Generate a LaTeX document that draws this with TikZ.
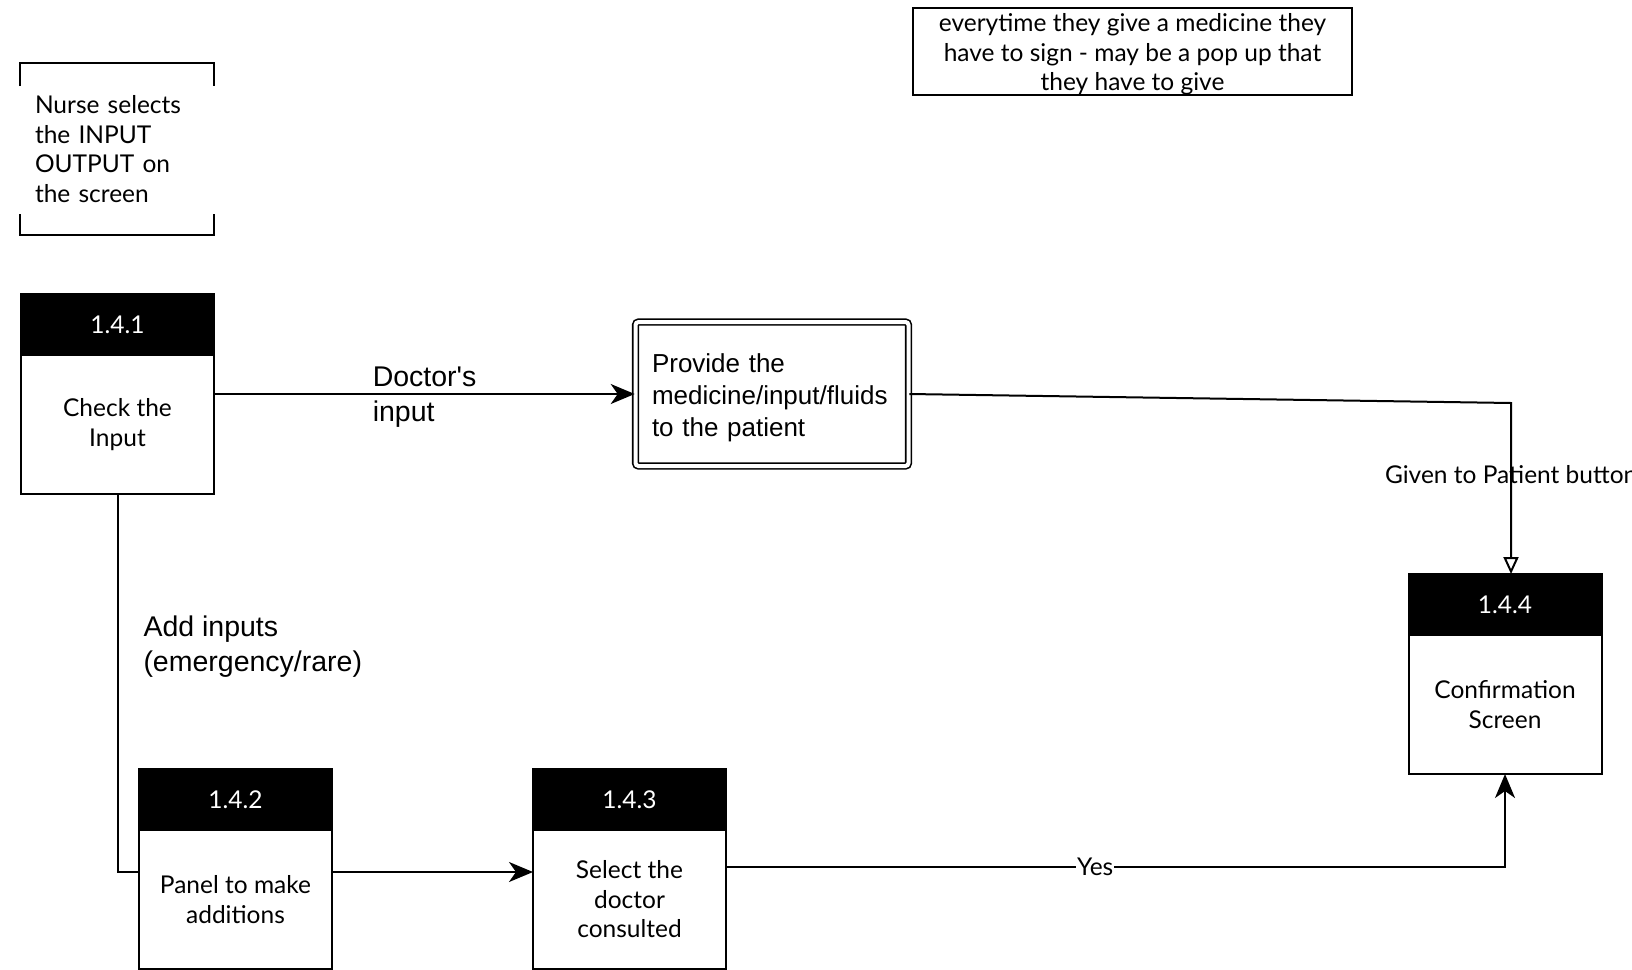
\documentclass[tikz,border=0pt]{standalone}
\usepackage{fontspec}
\setmainfont{Lato}
\newfontfamily\helv{Liberation Sans}
\usetikzlibrary{arrows.meta,positioning,calc}

\begin{document}
\begin{tikzpicture}[
  x=1pt, y=-1pt,
  line width=2pt,
  every node/.style={font=\fontsize{24.5}{29.5}\selectfont},
  head/.style={rectangle, draw, fill=black, text=white, minimum width=193pt,
    minimum height=61pt, inner sep=0pt, outer sep=0pt, anchor=north},
  body/.style={rectangle, draw, minimum width=193pt, minimum height=139pt,
    inner sep=0pt, outer sep=0pt, align=center, below=0pt of #1},
  task/.style={rectangle, draw, double, double distance=4pt, line width=1.6pt,
    rounded corners=3pt, minimum width=273pt, minimum height=144pt,
    text width=240pt, align=left, font=\helv\fontsize{26}{32}\selectfont},
  note/.style={rectangle, draw, minimum width=439pt, minimum height=87pt,
    inner sep=0pt, align=center},
  lab/.style={inner sep=0pt, align=left, font=\helv\fontsize{28.5}{35}\selectfont},
  flow/.style={-{Stealth[length=24pt, width=20pt, inset=7pt]}},
  open/.style={-{Triangle[open, fill=white, length=17pt, width=15pt]}}
]
\useasboundingbox (0,0) rectangle (1632,969);

% --- annotations ---
\node[minimum width=192pt, minimum height=170pt, inner sep=0pt,
  text width=164pt, align=left] (nurse) at (117,149)
  {Nurse selects\\the INPUT\\OUTPUT on\\the screen};
\draw (nurse.north west) ++(0,23) -- (nurse.north west) -- (nurse.north east) -- ++(0,23);
\draw (nurse.south west) ++(0,-21) -- (nurse.south west) -- (nurse.south east) -- ++(0,-21);

\node[note] (sign) at (1132.5,51.5)
  {\rule{0pt}{24pt}everytime they give a medicine they\\have to sign - may be a pop up that\\they have to give};

% --- processes (absolute placement) ---
\node[head] (p1h) at (117.5,294) {1.4.1};
\node[body=p1h] (p1) {Check the\\Input};

\node[head] (p2h) at (235.5,769) {1.4.2};
\node[body=p2h] (p2) {Panel to make\\additions};

\node[head] (p3h) at (629.5,769) {1.4.3};
\node[body=p3h] (p3) {Select the\\doctor\\consulted};

\node[head] (p4h) at (1505,574) {1.4.4};
\node[body=p4h] (p4) {Confirmation\\Screen};

\node[task] (give) at (772,394) {\rule{0pt}{27pt}Provide the\\medicine/input/fluids\\to the patient};

% --- helper points ---
\coordinate (addin) at (139,872);
\coordinate (yesin) at (726,867);
\coordinate (gbend) at (1511,403);

% --- connectors ---
% Check the input to provide
\draw[flow] (give.west -| p1.east) -- node[lab, pos=0.375, anchor=west, yshift=-3pt] {Doctor's\\input} (give.west);

% provide to confirmation
\draw[open] (give.east) -- (gbend) -- node[pos=0.42, anchor=west, inner sep=0pt, xshift=-127pt]
  {Given to Patient button} (gbend |- p4h.north);

% Check the input down to the panel
\draw (p1.south) |- node[lab, pos=0.202, anchor=west, xshift=25pt] {Add inputs\\(emergency/rare)} (addin);
\draw[flow] (addin -| p2.east) -- (addin -| p3.west);

% doctor consulted to confirmation
\draw[flow] (yesin) -| node[pos=0.237, fill=white, inner sep=1pt] {Yes} (p4.south);

\end{tikzpicture}
\end{document}
